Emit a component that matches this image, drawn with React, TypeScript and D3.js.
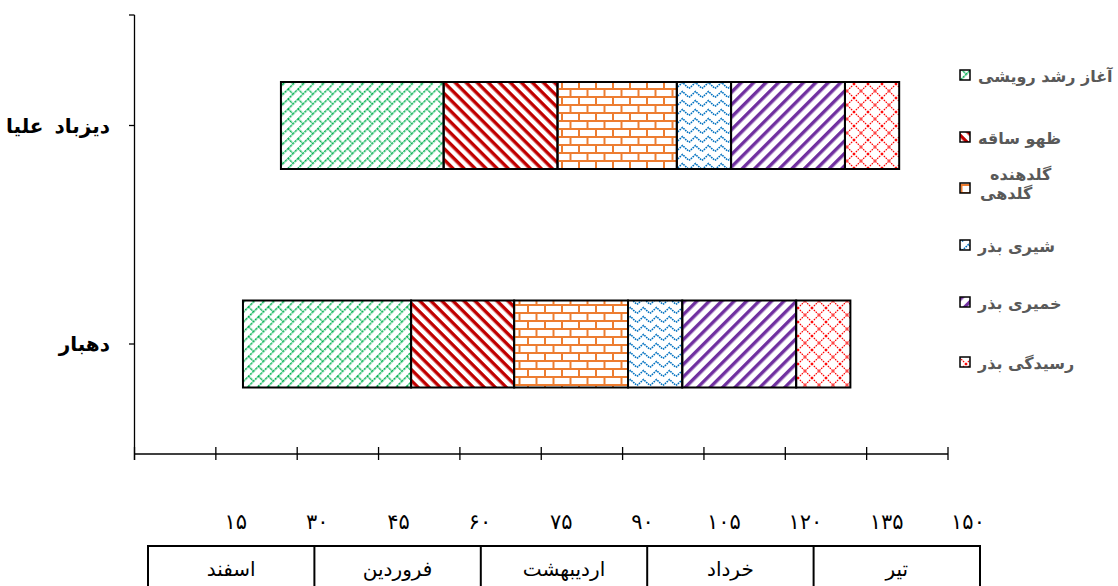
import React from 'react';
import * as d3 from 'd3';

const categories = ["دیزباد علیا", "دهبار"];
const startOffset = [27, 20];
const seriesNames = ["آغاز رشد رویشی", "ظهو ساقه", "گلدهنده\nگلدهی", "شیری بذر", "خمیری بذر", "رسیدگی بذر"];
const vegetativeStart = [30, 31];
const stemEmergence = [21, 19];
const flowering = [22, 21];
const milkSeed = [10, 10];
const doughSeed = [21, 21];
const seedMaturity = [10, 10];
const xTickValues = [0, 15, 30, 45, 60, 75, 90, 105, 120, 135, 150];
const xTickLabelValues = [15, 30, 45, 60, 75, 90, 105, 120, 135, 150];
const xTickLabels = ["۱۵", "۳۰", "۴۵", "۶۰", "۷۵", "۹۰", "۱۰۵", "۱۲۰", "۱۳۵", "۱۵۰"];
const months = ["اسفند", "فروردین", "اردیبهشت", "خرداد", "تیر"];

const seriesValues = [vegetativeStart, stemEmergence, flowering, milkSeed, doughSeed, seedMaturity];
const keys = ["offset", "s0", "s1", "s2", "s3", "s4", "s5"];
const rows = categories.map((c, i) => {
  const r: any = { cat: c, offset: startOffset[i] };
  seriesValues.forEach((s, j) => { r["s" + j] = s[i]; });
  return r;
});

const FONT = "'DejaVu Sans', sans-serif";

function Patterns() {
  return (
    <defs>
      <pattern id="p0" patternUnits="userSpaceOnUse" width="14" height="14" patternTransform="rotate(-45)">
        <g stroke="#00b050" strokeWidth="1.4" strokeDasharray="2.5 0.8" fill="none">
          <line x1="0" y1="0.7" x2="14" y2="0.7" />
          <line x1="0" y1="7.7" x2="14" y2="7.7" />
          <line x1="0.7" y1="0" x2="0.7" y2="7" />
          <line x1="7.7" y1="7" x2="7.7" y2="14" />
        </g>
      </pattern>
      <pattern id="p1" patternUnits="userSpaceOnUse" width="7.8" height="7.8" patternTransform="rotate(45)">
        <rect x="0" y="0" width="7.8" height="3.4" fill="#c00000" />
      </pattern>
      <pattern id="p2" patternUnits="userSpaceOnUse" width="17" height="16">
        <g stroke="#ed7d31" strokeWidth="2" fill="none">
          <line x1="0" y1="1" x2="17" y2="1" />
          <line x1="0" y1="9" x2="17" y2="9" />
          <line x1="1" y1="1" x2="1" y2="9" />
          <line x1="9.5" y1="9" x2="9.5" y2="17" />
        </g>
      </pattern>
      <pattern id="p3" patternUnits="userSpaceOnUse" width="13" height="9">
        <polyline points="0,7.5 6.5,1.5 13,7.5" stroke="#0070c0" strokeWidth="1.6" strokeDasharray="1.6 0.9" fill="none" />
      </pattern>
      <pattern id="p4" patternUnits="userSpaceOnUse" width="8.8" height="8.8" patternTransform="rotate(-45)">
        <rect x="0" y="0" width="8.8" height="3.4" fill="#7030a0" />
      </pattern>
      <pattern id="p5" patternUnits="userSpaceOnUse" width="14" height="14">
        <g stroke="#ff0000" strokeWidth="1.2" strokeDasharray="1.6 1" fill="none">
          <line x1="0" y1="0" x2="14" y2="14" />
          <line x1="14" y1="0" x2="0" y2="14" />
        </g>
      </pattern>
    </defs>
  );
}

export default function App() {
  const W = 1118, H = 586;
  const x = d3.scaleLinear().domain([0, 150]).range([134.5, 948]);
  const y = d3.scalePoint<string>().domain(categories).range([125.5, 344]);
  const barH = 87;
  const stacked = d3.stack<any>().keys(keys)(rows);
  const table = d3.scaleBand<string>().domain(months).range([148, 980]).padding(0);

  const legendCenters = [75, 137, 188, 245, 302, 362];

  return (
    <svg width={W} height={H} style={{ position: 'absolute', left: 0, top: 0, background: '#fff' }}>
      <Patterns />
      {stacked.slice(1).map((layer, li) => (
        <g key={layer.key}>
          {layer.map((d, i) => (
            <rect key={i}
              x={x(d[0])} y={(y(rows[i].cat) as number) - barH / 2}
              width={x(d[1]) - x(d[0])} height={barH}
              fill={`url(#p${li})`} stroke="#000" strokeWidth={2} />
          ))}
        </g>
      ))}
      <line x1={134.5} x2={134.5} y1={15} y2={460} stroke="#000" strokeWidth={1.3} />
      <line x1={129} x2={134.5} y1={15} y2={15} stroke="#000" strokeWidth={1.3} />
      {categories.map(c => (
        <g key={c}>
          <line x1={129} x2={134.5} y1={y(c)} y2={y(c)} stroke="#000" strokeWidth={1.3} />
          <text x={110} y={(y(c) as number) + 7} textAnchor="end" fontFamily={FONT} fontWeight="bold" fontSize={20} wordSpacing={4} fill="#000">{c}</text>
        </g>
      ))}
      <line x1={134.5} x2={948} y1={454} y2={454} stroke="#000" strokeWidth={1.3} />
      {xTickValues.map(v => (
        <line key={v} x1={x(v)} x2={x(v)} y1={447} y2={460} stroke="#000" strokeWidth={1.3} />
      ))}
      {xTickLabelValues.map((v, i) => (
        <text key={v} x={x(v) + 20} y={529} textAnchor="middle" fontFamily={FONT} fontSize={21} fill="#000">{xTickLabels[i]}</text>
      ))}
      <rect x={148} y={546} width={832} height={60} fill="none" stroke="#000" strokeWidth={2} />
      {months.map((m, i) => (
        <g key={m}>
          {i > 0 && <line x1={table(m)} x2={table(m)} y1={546} y2={590} stroke="#000" strokeWidth={2} />}
          <text x={(table(m) as number) + table.bandwidth() / 2} y={576} textAnchor="middle" fontFamily={FONT} fontSize={20} fill="#000">{m}</text>
        </g>
      ))}
      {seriesNames.map((n, i) => {
        const cy = legendCenters[i];
        const lines = n.split("\n");
        return (
          <g key={n}>
            <rect x={960} y={cy - 5} width={10} height={10} fill={`url(#p${i})`} stroke="#000" strokeWidth={1.5} />
            {lines.length === 1 ? (
              <text x={978} y={cy + 7} fontFamily={FONT} fontWeight="bold" fontSize={16} fill="#595959">{n}</text>
            ) : (
              lines.map((ln, k) => (
                <text key={k} x={k === 0 ? 990 : 980} y={cy - 8 + k * 19} fontFamily={FONT} fontWeight="bold" fontSize={16} fill="#595959">{ln}</text>
              ))
            )}
          </g>
        );
      })}
    </svg>
  );
}
